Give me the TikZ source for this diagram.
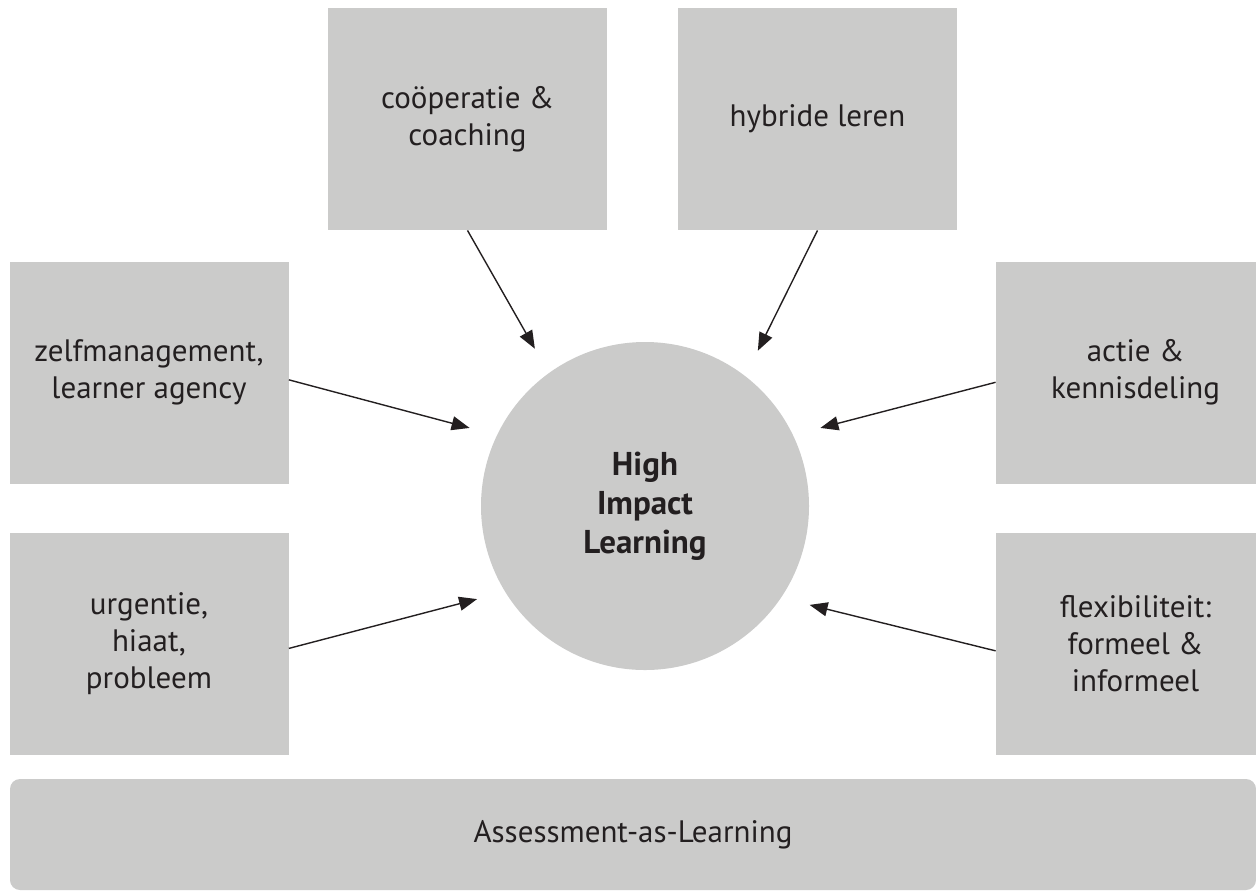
\documentclass[tikz,border=0pt]{standalone}
\usepackage{fontspec}
\setmainfont{PT Sans}
\usetikzlibrary{arrows.meta}
\definecolor{boxgray}{HTML}{CBCBCA}
\definecolor{inkgray}{HTML}{231F20}

\begin{document}
\begin{tikzpicture}[x=0.5pt,y=-0.5pt,
  factor/.style={rectangle, fill=boxgray, minimum width=139.5pt, minimum height=111pt,
    inner sep=0pt, align=center, text=inkgray, font=\fontsize{15.5}{18.5}\selectfont},
  core/.style={circle, fill=boxgray, minimum size=164pt, outer sep=14pt,
    align=center, text=inkgray, font=\bfseries\fontsize{16.5}{19.5}\selectfont},
  base/.style={rectangle, fill=boxgray, rounded corners=5pt, minimum width=623pt,
    minimum height=55.5pt, text=inkgray, font=\fontsize{15.5}{18.5}\selectfont},
  feeds/.style={-{Triangle[length=9pt,width=7pt]}, line width=0.7pt, draw=inkgray}]
\useasboundingbox (0,0) rectangle (1256,891);
\node[core] (HIL) at (645,506) {High\\Impact\\Learning};
\node[factor] (coop) at (467.5,119) {coöperatie \&\\coaching};
\node[factor] (hybr) at (817.5,119) {hybride leren};
\node[factor] (zelf) at (149,372.5) {zelfmanagement,\\learner agency};
\node[factor] (urg) at (149,643.5) {urgentie,\\hiaat,\\probleem};
\node[factor] (actie) at (1135.5,372.5) {actie \&\\kennisdeling};
\node[factor] (flex) at (1135.5,643.5) {flexibiliteit:\\formeel \&\\informeel};
\node[base] (AaL) at (633,834.5) {Assessment-as-Learning};
\draw [feeds] (coop.south) -- (HIL.125);
\draw [feeds] (hybr.south) -- (HIL.54);
\draw [feeds] (zelf.-3) -- (HIL.156);
\draw [feeds] (urg.-2) -- (HIL.209);
\draw [feeds] (actie.184) -- (HIL.24);
\draw [feeds] (flex.183) -- (HIL.329);
\end{tikzpicture}
\end{document}
